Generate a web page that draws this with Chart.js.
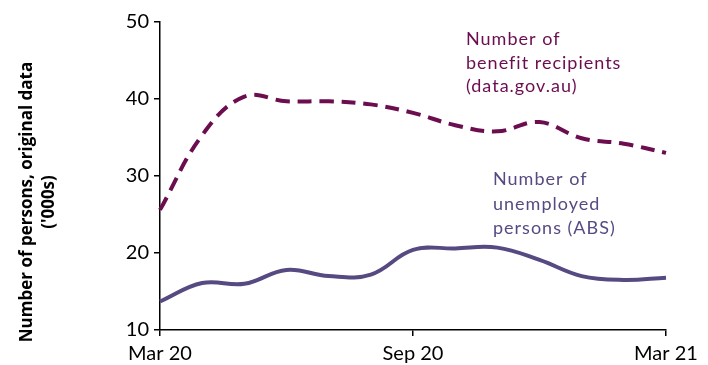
<!DOCTYPE html>
<html>
<head>
<meta charset="utf-8">
<script src="https://cdn.jsdelivr.net/npm/chart.js@4"></script>
<style>
    html, body { margin: 0; padding: 0; background: #fff; }
</style>
</head>
<body>
<canvas id="chart" width="708" height="365"></canvas>
<script>
// Data ('000s of persons)
const months = ["Mar 20", "Apr 20", "May 20", "Jun 20", "Jul 20", "Aug 20", "Sep 20",
                "Oct 20", "Nov 20", "Dec 20", "Jan 21", "Feb 21", "Mar 21"];
const shownMonths = ["Mar 20", "Sep 20", "Mar 21"];
const benefitRecipients = [25.6, 35.3, 40.3, 39.7, 39.7, 39.3, 38.2, 36.6, 35.8, 37.0, 34.9, 34.2, 33.0];
const unemployedPersons = [13.7, 16.1, 16.0, 17.8, 17.0, 17.2, 20.4, 20.6, 20.7, 19.1, 17.0, 16.5, 16.8];
const yTitle = ["Number of persons, original data", "('000s)"];
const benefitLabel = ["Number of", "benefit recipients", "(data.gov.au)"];
const unemployedLabel = ["Number of", "unemployed", "persons (ABS)"];

const plum = "#6b0d4f";
const violet = "#574a82";
const fontName = "Lato, 'Open Sans', sans-serif";

// Titles and line labels drawn straight onto the canvas
const textPlugin = {
    id: "texts",
    afterDraw(chart) {
        let ctx = chart.ctx;
        ctx.save();
        ctx.fillStyle = "#000";
        ctx.font = "bold 17px 'Open Sans', sans-serif";
        ctx.textAlign = "center";
        ctx.textBaseline = "middle";
        ctx.translate(38, 202);
        ctx.rotate(-Math.PI / 2);
        ctx.fillText(yTitle[0], 0, -11);
        ctx.fillText(yTitle[1], 0, 11);
        ctx.restore();

        ctx.save();
        ctx.font = "18px " + fontName;
        ctx.textAlign = "left";
        ctx.textBaseline = "alphabetic";
        ctx.letterSpacing = "1px";
        ctx.fillStyle = plum;
        benefitLabel.forEach((t, i) => ctx.fillText(t, 466, 45 + i * 23.5));
        ctx.fillStyle = violet;
        unemployedLabel.forEach((t, i) => ctx.fillText(t, 493, 185 + i * 24.5));
        ctx.restore();
    }
};

document.addEventListener("DOMContentLoaded", function () {
    let shownIdx = shownMonths.map(m => months.indexOf(m));
    let ctx = document.getElementById("chart").getContext("2d");
    new Chart(ctx, {
        type: "line",
        data: {
            labels: months,
            datasets: [{
                label: "Number of benefit recipients (data.gov.au)",
                data: benefitRecipients,
                borderColor: plum,
                borderWidth: 4,
                borderDash: [14, 8],
                tension: 0.4,
                pointRadius: 0,
                fill: false
            }, {
                label: "Number of unemployed persons (ABS)",
                data: unemployedPersons,
                borderColor: violet,
                borderWidth: 4,
                tension: 0.4,
                pointRadius: 0,
                fill: false
            }]
        },
        options: {
            responsive: false,
            animation: false,
            devicePixelRatio: 1,
            layout: { padding: { left: 0, top: 22, right: 42, bottom: 0 } },
            plugins: {
                legend: { display: false },
                tooltip: { enabled: false }
            },
            scales: {
                x: {
                    offset: false,
                    afterFit: s => { s.height = 35; },
                    border: { color: "#000", width: 1.5 },
                    grid: {
                        drawOnChartArea: false,
                        tickLength: 6,
                        lineWidth: 1.5,
                        color: c => shownIdx.includes(c.index) ? "#000" : "rgba(0,0,0,0)"
                    },
                    ticks: {
                        autoSkip: false,
                        maxRotation: 0,
                        padding: 6,
                        color: "#000",
                        font: { family: fontName, size: 20 },
                        callback: (v, i) => shownIdx.includes(i) ? months[i] : ""
                    }
                },
                y: {
                    min: 10,
                    max: 50,
                    afterFit: s => { s.width = 160; },
                    border: { color: "#000", width: 1.5 },
                    grid: { drawOnChartArea: false, tickLength: 6, lineWidth: 1.5, color: "#000" },
                    ticks: {
                        stepSize: 10,
                        padding: 5,
                        color: "#000",
                        font: { family: fontName, size: 20 }
                    }
                }
            }
        },
        plugins: [textPlugin]
    });
});
</script>
</body>
</html>
